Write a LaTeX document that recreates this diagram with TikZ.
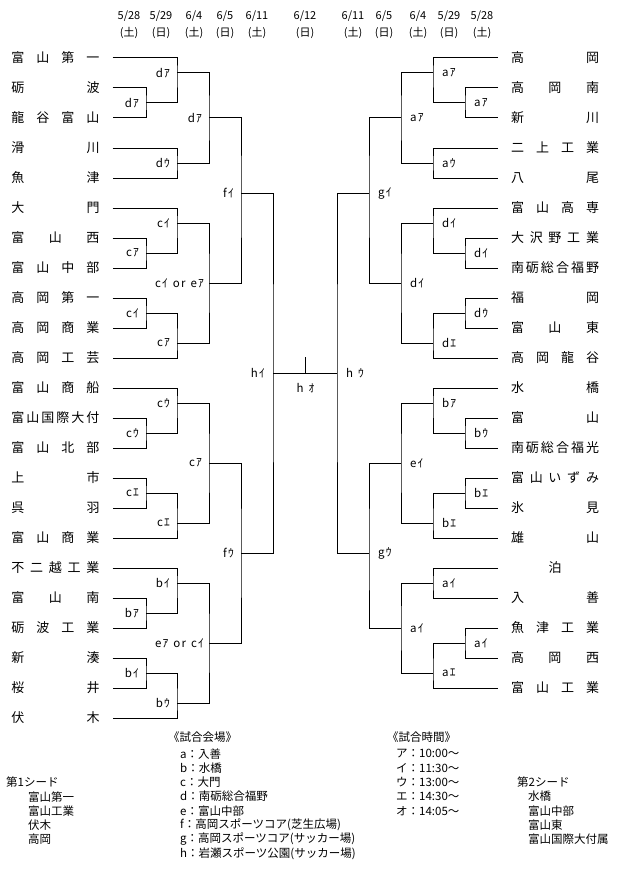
\documentclass[tikz,border=0pt]{standalone}
\usepackage{fontspec}
\setmainfont{Noto Sans CJK JP}
\newfontfamily\lblfont[LetterSpace=10]{Noto Sans CJK JP}
\usetikzlibrary{positioning}

\newcommand\spreadname[1]{\makebox[88pt]{\spreadfirst#1\relax}}
\def\spreadfirst#1{\ifx\relax#1\else#1\expandafter\spreadrest\fi}
\def\spreadrest#1{\ifx\relax#1\else\hfill#1\expandafter\spreadrest\fi}
\newcommand\gap{\hspace{5pt}}

\tikzset{
  team/.style={inner sep=0pt, outer xsep=13pt, font=\fontsize{13}{13}\selectfont},
  lbl/.style={inner sep=0pt, font=\lblfont\fontsize{11.5}{11.5}\selectfont},
  date/.style={inner sep=0pt, align=center, font=\fontsize{11}{17}\selectfont},
  note/.style={inner sep=0pt, anchor=west, font=\fontsize{11.5}{11.5}\selectfont},
  bracket/.style={line width=1pt},
}

\begin{document}
\begin{tikzpicture}[x=1pt,y=-1pt]
  \fill[white] (0,0) rectangle (621,872);
  \useasboundingbox (0,0) rectangle (621,872);

  % dates
  \foreach \xx/\dd/\ww [count=\k] in {129/{5/28}/土,161/{5/29}/日,194/{6/4}/土,225/{6/5}/日,257/{6/11}/土,305/{6/12}/日,353/{6/11}/土,384/{6/5}/日,418/{6/4}/土,449/{5/29}/日,482/{5/28}/土}
    \node[date] (day\k) at (\xx,24.5) {\dd\\(\ww)};

  % teams
  \foreach \nm [count=\i from 0] in {富山第一,砺波,龍谷富山,滑川,魚津,大門,富山西,富山中部,高岡第一,高岡商業,高岡工芸,富山商船,富山国際大付,富山北部,上市,呉羽,富山商業,不二越工業,富山南,砺波工業,新湊,桜井,伏木}
    \node[team] (L\i) at (55.5,58+30*\i) {\expandafter\spreadname\expandafter{\nm}};
  \foreach \nm [count=\i from 0] in {高岡,高岡南,新川,二上工業,八尾,富山高専,大沢野工業,南砺総合福野,福岡,富山東,高岡龍谷,水橋,富山,南砺総合福光,富山いずみ,氷見,雄山,泊,入善,魚津工業,高岡西,富山工業}
    \node[team] (R\i) at (555,58+30*\i) {\expandafter\spreadname\expandafter{\nm}};

  % left side
  \coordinate (m1) at (146,103);
  \coordinate (m2) at (177,73);
  \coordinate (m3) at (177,163);
  \coordinate (m4) at (209,118);
  \coordinate (m5) at (146,253);
  \coordinate (m6) at (177,223);
  \coordinate (m7) at (146,313);
  \coordinate (m8) at (177,343);
  \coordinate (m9) at (209,283);
  \coordinate (m10) at (241,193);
  \coordinate (m11) at (146,433);
  \coordinate (m12) at (177,403);
  \coordinate (m13) at (146,493);
  \coordinate (m14) at (177,523);
  \coordinate (m15) at (209,463);
  \coordinate (m16) at (146,613);
  \coordinate (m17) at (177,583);
  \coordinate (m18) at (146,673);
  \coordinate (m19) at (177,703);
  \coordinate (m20) at (209,643);
  \coordinate (m21) at (241,553);
  \coordinate (m22) at (273,373);
  \draw[bracket] (L1.east) -| (m1) |- (L2.east);
  \draw[bracket] (L0.east) -| (m2) |- (m1);
  \draw[bracket] (L3.east) -| (m3) |- (L4.east);
  \draw[bracket] (m2) -| (m4) |- (m3);
  \draw[bracket] (L6.east) -| (m5) |- (L7.east);
  \draw[bracket] (L5.east) -| (m6) |- (m5);
  \draw[bracket] (L8.east) -| (m7) |- (L9.east);
  \draw[bracket] (m7) -| (m8) |- (L10.east);
  \draw[bracket] (m6) -| (m9) |- (m8);
  \draw[bracket] (m4) -| (m10) |- (m9);
  \draw[bracket] (L12.east) -| (m11) |- (L13.east);
  \draw[bracket] (L11.east) -| (m12) |- (m11);
  \draw[bracket] (L14.east) -| (m13) |- (L15.east);
  \draw[bracket] (m13) -| (m14) |- (L16.east);
  \draw[bracket] (m12) -| (m15) |- (m14);
  \draw[bracket] (L18.east) -| (m16) |- (L19.east);
  \draw[bracket] (L17.east) -| (m17) |- (m16);
  \draw[bracket] (L20.east) -| (m18) |- (L21.east);
  \draw[bracket] (m18) -| (m19) |- (L22.east);
  \draw[bracket] (m17) -| (m20) |- (m19);
  \draw[bracket] (m15) -| (m21) |- (m20);
  \draw[bracket] (m10) -| (m22) |- (m21);
  \node[lbl,left=7pt of m1] (t1) {dｱ};
  \node[lbl,left=7pt of m2] (t2) {dｱ};
  \node[lbl,left=7pt of m3] (t3) {dｳ};
  \node[lbl,left=7pt of m4] (t4) {dｱ};
  \node[lbl,left=7pt of m5] (t5) {cｱ};
  \node[lbl,left=7pt of m6] (t6) {cｲ};
  \node[lbl,left=7pt of m7] (t7) {cｲ};
  \node[lbl,left=7pt of m8] (t8) {cｱ};
  \node[lbl,left=5pt of m9] (t9) {cｲ\gap or\gap eｱ};
  \node[lbl,left=7pt of m10] (t10) {fｲ};
  \node[lbl,left=7pt of m11] (t11) {cｳ};
  \node[lbl,left=7pt of m12] (t12) {cｳ};
  \node[lbl,left=7pt of m13] (t13) {cｴ};
  \node[lbl,left=7pt of m14] (t14) {cｴ};
  \node[lbl,left=7pt of m15] (t15) {cｱ};
  \node[lbl,left=7pt of m16] (t16) {bｱ};
  \node[lbl,left=7pt of m17] (t17) {bｲ};
  \node[lbl,left=7pt of m18] (t18) {bｲ};
  \node[lbl,left=7pt of m19] (t19) {bｳ};
  \node[lbl,left=5pt of m20] (t20) {eｱ\gap or\gap cｲ};
  \node[lbl,left=7pt of m21] (t21) {fｳ};
  \node[lbl,left=8pt of m22] (t22) {hｲ};

  % right side
  \coordinate (n1) at (465,103);
  \coordinate (n2) at (433,73);
  \coordinate (n3) at (433,163);
  \coordinate (n4) at (401,118);
  \coordinate (n5) at (465,253);
  \coordinate (n6) at (433,223);
  \coordinate (n7) at (465,313);
  \coordinate (n8) at (433,343);
  \coordinate (n9) at (401,283);
  \coordinate (n10) at (369,193);
  \coordinate (n11) at (465,433);
  \coordinate (n12) at (433,403);
  \coordinate (n13) at (465,493);
  \coordinate (n14) at (433,523);
  \coordinate (n15) at (401,463);
  \coordinate (n16) at (433,583);
  \coordinate (n17) at (465,643);
  \coordinate (n18) at (433,673);
  \coordinate (n19) at (401,628);
  \coordinate (n20) at (369,553);
  \coordinate (n21) at (337,373);
  \draw[bracket] (R1.west) -| (n1) |- (R2.west);
  \draw[bracket] (R0.west) -| (n2) |- (n1);
  \draw[bracket] (R3.west) -| (n3) |- (R4.west);
  \draw[bracket] (n2) -| (n4) |- (n3);
  \draw[bracket] (R6.west) -| (n5) |- (R7.west);
  \draw[bracket] (R5.west) -| (n6) |- (n5);
  \draw[bracket] (R8.west) -| (n7) |- (R9.west);
  \draw[bracket] (n7) -| (n8) |- (R10.west);
  \draw[bracket] (n6) -| (n9) |- (n8);
  \draw[bracket] (n4) -| (n10) |- (n9);
  \draw[bracket] (R12.west) -| (n11) |- (R13.west);
  \draw[bracket] (R11.west) -| (n12) |- (n11);
  \draw[bracket] (R14.west) -| (n13) |- (R15.west);
  \draw[bracket] (n13) -| (n14) |- (R16.west);
  \draw[bracket] (n12) -| (n15) |- (n14);
  \draw[bracket] (R17.west) -| (n16) |- (R18.west);
  \draw[bracket] (R19.west) -| (n17) |- (R20.west);
  \draw[bracket] (n17) -| (n18) |- (R21.west);
  \draw[bracket] (n16) -| (n19) |- (n18);
  \draw[bracket] (n15) -| (n20) |- (n19);
  \draw[bracket] (n10) -| (n21) |- (n20);
  \node[lbl,right=9pt of n1] (u1) {aｱ};
  \node[lbl,right=9pt of n2] (u2) {aｱ};
  \node[lbl,right=9pt of n3] (u3) {aｳ};
  \node[lbl,right=9pt of n4] (u4) {aｱ};
  \node[lbl,right=9pt of n5] (u5) {dｲ};
  \node[lbl,right=9pt of n6] (u6) {dｲ};
  \node[lbl,right=9pt of n7] (u7) {dｳ};
  \node[lbl,right=9pt of n8] (u8) {dｴ};
  \node[lbl,right=9pt of n9] (u9) {dｲ};
  \node[lbl,right=9pt of n10] (u10) {gｲ};
  \node[lbl,right=9pt of n11] (u11) {bｳ};
  \node[lbl,right=9pt of n12] (u12) {bｱ};
  \node[lbl,right=9pt of n13] (u13) {bｴ};
  \node[lbl,right=9pt of n14] (u14) {bｴ};
  \node[lbl,right=9pt of n15] (u15) {eｲ};
  \node[lbl,right=9pt of n16] (u16) {aｲ};
  \node[lbl,right=9pt of n17] (u17) {aｲ};
  \node[lbl,right=9pt of n18] (u18) {aｴ};
  \node[lbl,right=9pt of n19] (u19) {aｲ};
  \node[lbl,right=9pt of n20] (u20) {gｳ};
  \node[lbl,right=9pt of n21] (u21) {h\gap ｳ};

  % final
  \coordinate (fin) at (305.5,357);
  \draw[bracket] (m22) -- (n21);
  \draw[bracket] (fin) -- (fin |- m22);
  \node[lbl] (t0) at (305.5,388) {h\gap ｵ};

  % legend
  \node[note] (venue) at (168,737) {《試合会場》};
  \foreach \tx [count=\k from 0] in {a：入善,b：水橋,c：大門,d：南砺総合福野,e：富山中部,f：高岡スポーツコア(芝生広場),g：高岡スポーツコア(サッカー場),h：岩瀬スポーツ公園(サッカー場)}
    \node[note] (v\k) at (180,754+14.2*\k) {\tx};
  \node[note] (time) at (387,737) {《試合時間》};
  \foreach \tx [count=\k from 0] in {ア：10:00～,イ：11:30～,ウ：13:00～,エ：14:30～,オ：14:05～}
    \node[note] (w\k) at (396,754+14.2*\k) {\tx};
  \node[note] (seed1) at (6,782.4) {第1シード};
  \foreach \tx [count=\k from 0] in {富山第一,富山工業,伏木,高岡}
    \node[note] (s\k) at (28,796.6+14.2*\k) {\tx};
  \node[note] (seed2) at (517,782.4) {第2シード};
  \foreach \tx [count=\k from 0] in {水橋,富山中部,富山東,富山国際大付属}
    \node[note] (r\k) at (528,796.6+14.2*\k) {\tx};
\end{tikzpicture}
\end{document}
